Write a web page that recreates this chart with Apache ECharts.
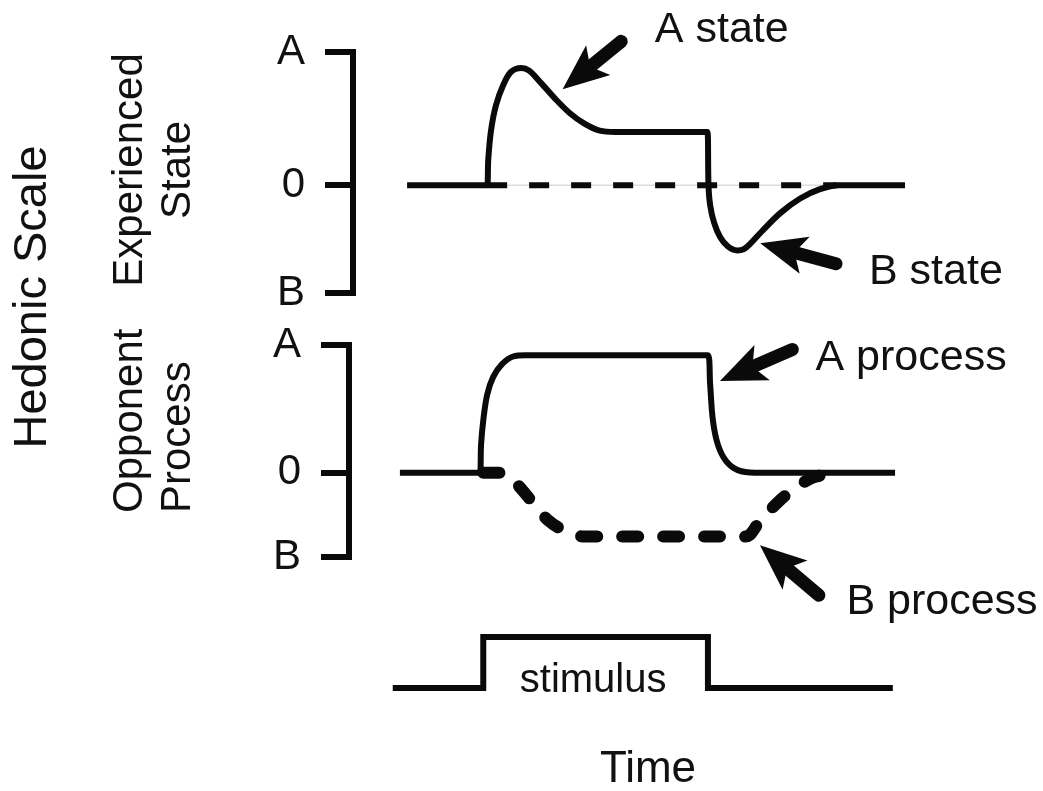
<!DOCTYPE html>
<html>
<head>
<meta charset="utf-8">
<script src="https://cdn.jsdelivr.net/npm/echarts@6/dist/echarts.min.js"></script>
<style>
  html, body { margin: 0; padding: 0; background: #fff; }
  #chart { width: 1043px; height: 791px; }
</style>
</head>
<body>
<div id="chart"></div>
<script>
// hedonic scale levels (B, 0, A) for each panel
var levelNames = ['B', '0', 'A'];
var levelsTop = [-0.81, 0, 1];
var levelsMid = [-0.66, 0, 1];

// experienced state (top panel)
var stateTime = [9.8, 24.3, 24.5, 25.0, 25.9, 27.2, 28.6, 30.5, 31.9, 34.0, 36.6, 39.3, 42.0, 44.7, 47.5, 64.2,
  64.4, 64.7, 65.4, 66.5, 67.9, 69.6, 70.8, 72.2, 74.0, 77.4, 81.0, 84.6, 88.0, 100];
var stateValue = [0, 0, 0.19, 0.41, 0.6, 0.75, 0.85, 0.88, 0.86, 0.77, 0.65, 0.54, 0.46, 0.41, 0.4, 0.4,
  0, -0.15, -0.28, -0.39, -0.46, -0.49, -0.48, -0.43, -0.35, -0.21, -0.1, -0.03, 0, 0];
var baseTime = [24.3, 87.7];
var baseValue = [0, 0];

// opponent processes (middle panel)
var aTime = [8.5, 23.0, 23.2, 23.6, 24.3, 25.4, 27.0, 29.0, 31.2, 64.3, 64.7, 65.2, 66.1, 67.6, 69.7, 72.8, 98.2];
var aValue = [0, 0, 0.22, 0.41, 0.61, 0.75, 0.85, 0.91, 0.92, 0.92, 0.69, 0.41, 0.22, 0.09, 0.02, 0, 0];
var bTime = [23.6, 27.2, 29.3, 32.1, 35.3, 38.6, 42.0, 71.0, 73.7, 77.0, 80.4, 83.2, 85.0];
var bValue = [0, 0, -0.07, -0.21, -0.37, -0.46, -0.5, -0.5, -0.38, -0.23, -0.11, -0.04, -0.02];

// stimulus (bottom panel)
var stimTime = [7.2, 23.6, 23.6, 64.3, 64.3, 97.8];
var stimValue = [0, 0, 1, 1, 0, 0];

// annotation arrows: [tailTime, tailValue, headTime, headValue]
var arrowAState = [48.6, 1.08, 41.2, 0.83];
var arrowBState = [87.5, -0.59, 77.8, -0.482];
var arrowAProc = [79.6, 0.965, 70.3, 0.79];
var arrowBProc = [84.4, -0.96, 76.9, -0.685];
var labelsTop = [['A state', 66.8, 1.165], ['B state', 105.6, -0.654]];
var labelsMid = [['A process', 101.1, 0.9], ['B process', 106.7, -1.016]];
var stimLabel = [['stimulus', 43.5, 0.14]];

var font = "'Liberation Sans', Arial, sans-serif";
var ink = '#0a0a0a';
var W = 1043, H = 791;
var arrowHead = 'path://M20,0 L40,48 L20,37 L0,48 Z';

// panel grids (pixels)
var gridTop = { left: 353, right: 138, top: 52, bottom: 498 };
var gridMid = { left: 353, right: 138, top: 345, bottom: 234 };
var gridStim = { left: 353, right: 138, top: 637, bottom: 103 };
// full-height overlay sharing the panel scales, so annotations can sit outside the brackets
var gridNote = { left: 353, right: 0, top: 0, bottom: 0 };

function zip(xs, ys) {
  return xs.map(function (x, i) { return [x, ys[i]]; });
}

function overlayRange(g, levels) {
  var ppu = (H - g.top - g.bottom) / (levels[2] - levels[0]);
  return { min: levels[0] - g.bottom / ppu, max: levels[2] + g.top / ppu };
}

function arrow(a) {
  return [{ coord: [a[0], a[1]] }, { coord: [a[2], a[3]], symbolKeepAspect: true }];
}

function textPoints(list, size) {
  return {
    symbol: 'rect',
    symbolSize: 0,
    silent: true,
    label: { show: true, position: 'inside', formatter: '{b}', fontSize: size, color: '#111', fontFamily: font },
    data: list.map(function (l) { return { name: l[0], coord: [l[1], l[2]] }; })
  };
}

function arrowLines(list) {
  return {
    silent: true,
    symbol: ['none', arrowHead],
    symbolSize: 46,
    label: { show: false },
    lineStyle: { color: ink, width: 13, type: 'solid', cap: 'round' },
    emphasis: { disabled: true },
    data: list.map(arrow)
  };
}

function bracketAxis(grid, levels, offset) {
  return {
    gridIndex: grid, type: 'value', min: levels[0], max: levels[2], position: 'left', offset: offset,
    splitLine: { show: false },
    axisLine: { show: true, onZero: false, lineStyle: { color: ink, width: 6, cap: 'square' } },
    axisTick: { show: true, length: 28, customValues: levels, lineStyle: { color: ink, width: 6 } },
    axisLabel: {
      show: true, customValues: levels, margin: 48, fontSize: 42, color: '#111', fontFamily: font,
      formatter: function (v) { return levelNames[levels.indexOf(v)]; }
    }
  };
}

function timeAxis(grid, max) {
  return { gridIndex: grid, type: 'value', min: 0, max: max || 100, show: false };
}

var noteTop = overlayRange(gridTop, levelsTop);
var noteMid = overlayRange(gridMid, levelsMid);
var noteTimeMax = 100 * (W - gridNote.left - gridNote.right) / (W - gridTop.left - gridTop.right);

var chart = echarts.init(document.getElementById('chart'));

chart.setOption({
  backgroundColor: '#fff',
  animation: false,
  grid: [gridTop, gridMid, gridStim, gridNote].map(function (g) {
    return Object.assign({ outerBoundsMode: 'none' }, g);
  }),
  xAxis: [timeAxis(0), timeAxis(1), timeAxis(2), timeAxis(3, noteTimeMax)],
  yAxis: [
    bracketAxis(0, levelsTop, 0),
    bracketAxis(1, levelsMid, 4),
    { gridIndex: 2, type: 'value', min: 0, max: 1, show: false },
    { gridIndex: 3, type: 'value', min: noteTop.min, max: noteTop.max, show: false },
    { gridIndex: 3, type: 'value', min: noteMid.min, max: noteMid.max, show: false }
  ],
  graphic: [
    { type: 'text', x: 33, y: 297, rotation: Math.PI / 2,
      style: { text: 'Hedonic Scale', font: '47px ' + font, fill: '#111', align: 'center', verticalAlign: 'middle' } },
    { type: 'text', x: 154, y: 170, rotation: Math.PI / 2,
      style: { text: 'Experienced\nState', font: '42px ' + font, lineHeight: 48, fill: '#111', align: 'center', verticalAlign: 'middle' } },
    { type: 'text', x: 154, y: 513, rotation: Math.PI / 2,
      style: { text: 'Opponent\nProcess', font: '42px ' + font, lineHeight: 48, fill: '#111', align: 'left', verticalAlign: 'middle' } },
    { type: 'text', x: 648, y: 770,
      style: { text: 'Time', font: '44px ' + font, fill: '#111', align: 'center', verticalAlign: 'middle' } }
  ],
  series: [
    {
      name: 'zero guide', type: 'line', xAxisIndex: 0, yAxisIndex: 0, data: zip(baseTime, baseValue),
      symbol: 'none', silent: true, z: 1, lineStyle: { color: '#c9ccd6', width: 1 }
    },
    {
      name: 'baseline', type: 'line', xAxisIndex: 0, yAxisIndex: 0, data: zip(baseTime, baseValue),
      symbol: 'none', silent: true, z: 2, lineStyle: { color: ink, width: 6, type: [20, 22] }
    },
    {
      name: 'Experienced State', type: 'line', xAxisIndex: 0, yAxisIndex: 0, data: zip(stateTime, stateValue),
      symbol: 'none', smooth: 0.35, clip: false, silent: true, z: 3,
      lineStyle: { color: ink, width: 6, join: 'round' }
    },
    {
      name: 'A process', type: 'line', xAxisIndex: 1, yAxisIndex: 1, data: zip(aTime, aValue),
      symbol: 'none', smooth: 0.35, clip: false, silent: true, z: 3,
      lineStyle: { color: ink, width: 6, join: 'round' }
    },
    {
      name: 'B process', type: 'line', xAxisIndex: 1, yAxisIndex: 1, data: zip(bTime, bValue),
      symbol: 'none', smooth: 0.35, clip: false, silent: true, z: 2,
      lineStyle: { color: ink, width: 12, type: [16, 25], cap: 'round', join: 'round' }
    },
    {
      name: 'stimulus', type: 'line', xAxisIndex: 2, yAxisIndex: 2, data: zip(stimTime, stimValue),
      symbol: 'none', clip: false, silent: true,
      lineStyle: { color: ink, width: 6, join: 'miter' },
      markPoint: textPoints(stimLabel, 40)
    },
    {
      name: 'state notes', type: 'line', xAxisIndex: 3, yAxisIndex: 3, data: [],
      symbol: 'none', silent: true, z: 4,
      markLine: arrowLines([arrowAState, arrowBState]),
      markPoint: textPoints(labelsTop, 43)
    },
    {
      name: 'process notes', type: 'line', xAxisIndex: 3, yAxisIndex: 4, data: [],
      symbol: 'none', silent: true, z: 4,
      markLine: arrowLines([arrowAProc, arrowBProc]),
      markPoint: textPoints(labelsMid, 43)
    }
  ]
});
</script>
</body>
</html>
